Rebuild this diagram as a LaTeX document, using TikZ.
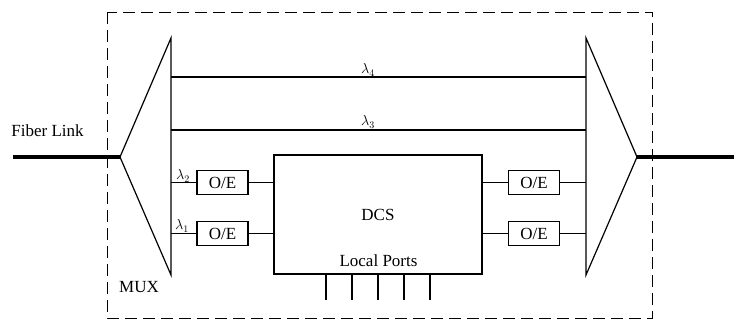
\documentclass[tikz,border=0pt]{standalone}
\usepackage{fontspec}
\setmainfont{Liberation Serif}
\begin{document}
\begin{tikzpicture}[x=1pt,y=-1pt,line width=1.2pt,
  oe/.style={draw,minimum width=51pt,minimum height=24pt,inner sep=0pt,font=\fontsize{17}{19}\selectfont},
  lbl/.style={font=\fontsize{17}{19}\selectfont,inner sep=0pt},
  lam/.style={font=\fontsize{14}{16}\selectfont,inner sep=0pt}]
\useasboundingbox (0,0) rectangle (734,325);
% dashed enclosure
\draw[dash pattern=on 12pt off 6pt,line width=1pt] (107,12) rectangle (652,318);
% multiplexers
\coordinate (la) at (120,157);
\coordinate (lt) at (171,38);
\coordinate (lb) at (171,275);
\coordinate (ra) at (637,157);
\coordinate (rt) at (586,38);
\coordinate (rb) at (586,275);
\draw (la) -- (lt) -- (lb) -- cycle;
\draw (ra) -- (rt) -- (rb) -- cycle;
% fiber links
\coordinate (fl) at (13,157);
\coordinate (fr) at (734,157);
\draw[line width=4pt] (fl) -- (la);
\draw[line width=4pt] (ra) -- (fr);
\node[lbl] (fiber) at (47.5,131) {Fiber Link};
\node[lbl] (mux) at (139,287) {MUX};
% express wavelengths
\coordinate (l4a) at (171,77); \coordinate (l4b) at (586,77);
\coordinate (l3a) at (171,130); \coordinate (l3b) at (586,130);
\draw (l4a) -- (l4b);
\draw (l3a) -- (l3b);
\node[lam] (lam4) at (368,70) {$\lambda_4$};
\node[lam] (lam3) at (368,122) {$\lambda_3$};
% DCS
\node[draw,minimum width=208pt,minimum height=119pt,inner sep=0pt] (dcs) at (378,214.5) {};
\node[lbl] (dcslbl) at (378,215) {DCS};
\node[lbl] (lp) at (378.5,261) {Local Ports};
% O/E boxes
\node[oe] (oe1) at (222.5,182.5) {O/E};
\node[oe] (oe2) at (222.5,233.5) {O/E};
\node[oe] (oe3) at (534,182.5) {O/E};
\node[oe] (oe4) at (534,233.5) {O/E};
\coordinate (m1) at (171,182.5); \coordinate (m2) at (171,233.5);
\coordinate (n1) at (586,182.5); \coordinate (n2) at (586,233.5);
\draw (m1) -- (oe1.west);
\draw (m2) -- (oe2.west);
\draw (oe1.east) -- (dcs.west |- oe1.east);
\draw (oe2.east) -- (dcs.west |- oe2.east);
\draw (dcs.east |- oe3.west) -- (oe3.west);
\draw (dcs.east |- oe4.west) -- (oe4.west);
\draw (oe3.east) -- (n1);
\draw (oe4.east) -- (n2);
\node[lam] (lam2) at (183,176) {$\lambda_2$};
\node[lam] (lam1) at (182,226) {$\lambda_1$};
% local ports
\foreach \x in {326,352,378,404,430} {
  \coordinate (p\x) at (\x,300);
  \draw (dcs.south -| p\x) -- (p\x);
}
\end{tikzpicture}
\end{document}
